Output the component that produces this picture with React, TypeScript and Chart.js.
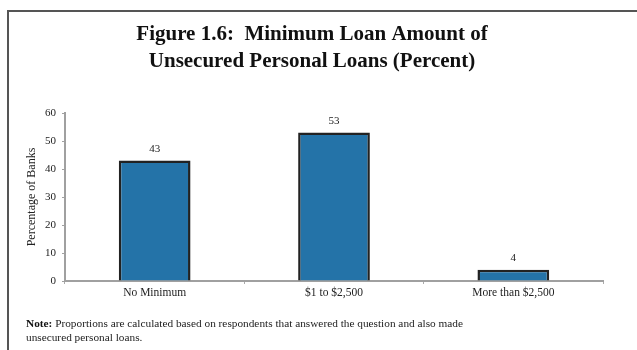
import React, { useEffect, useRef } from "react";
import { Chart, registerables } from "chart.js";

Chart.register(...registerables);

const categories = ["No Minimum", "$1 to $2,500", "More than $2,500"];
const values = [43, 53, 4];
const yTicks = [0, 10, 20, 30, 40, 50, 60];
const titleLines = ["Figure 1.6:  Minimum Loan Amount of", "Unsecured Personal Loans (Percent)"];
const noteBold = "Note:";
const noteLines = [
  " Proportions are calculated based on respondents that answered the question and also made",
  "unsecured personal loans.",
];
const yTitle = "Percentage of Banks";

const SERIF = "'Liberation Serif', 'Times New Roman', serif";

const framePlugin = {
  id: "frame",
  beforeDraw(chart: any) {
    const ctx = chart.ctx;
    ctx.save();
    ctx.fillStyle = "#ffffff";
    ctx.fillRect(0, 0, chart.width, chart.height);
    ctx.strokeStyle = "#555555";
    ctx.lineWidth = 2;
    ctx.beginPath();
    ctx.moveTo(8, 350);
    ctx.lineTo(8, 11);
    ctx.lineTo(637, 11);
    ctx.stroke();
    // title
    ctx.fillStyle = "#111111";
    ctx.font = `bold 21px ${SERIF}`;
    ctx.textBaseline = "alphabetic";
    ctx.textAlign = "center";
    ctx.fillText(titleLines[0], 312, 40);
    ctx.fillText(titleLines[1], 312, 67);
    // note
    ctx.textAlign = "left";
    ctx.font = `bold 11.3px ${SERIF}`;
    ctx.fillText(noteBold, 26, 327);
    const w = ctx.measureText(noteBold).width;
    ctx.font = `11.3px ${SERIF}`;
    ctx.fillStyle = "#222222";
    ctx.fillText(noteLines[0], 26 + w, 327);
    ctx.fillText(noteLines[1], 26, 341);
    ctx.restore();
  },
};

const labelPlugin = {
  id: "valueLabels",
  afterDatasetsDraw(chart: any) {
    const ctx = chart.ctx;
    const meta = chart.getDatasetMeta(0);
    ctx.save();
    ctx.fillStyle = "#222222";
    ctx.font = `11px ${SERIF}`;
    ctx.textAlign = "center";
    ctx.textBaseline = "bottom";
    meta.data.forEach((bar: any, i: number) => {
      ctx.fillText(String(values[i]), bar.x, bar.y - 6);
    });
    ctx.restore();
  },
};

export default function App() {
  const ref = useRef<HTMLCanvasElement | null>(null);
  useEffect(() => {
    if (!ref.current) return;
    const chart = new Chart(ref.current, {
      type: "bar",
      data: {
        labels: categories,
        datasets: [
          {
            data: values,
            backgroundColor: "#2473A8",
            borderColor: "#222222",
            borderWidth: 2.5,
            borderSkipped: "bottom",
            barPercentage: 0.4,
            categoryPercentage: 1,
          },
        ],
      },
      options: {
        responsive: false,
        animation: false,
        devicePixelRatio: 1,
        layout: { padding: { left: 25, right: 34, top: 113, bottom: 44 } },
        plugins: {
          legend: { display: false },
          title: { display: false },
          tooltip: { enabled: false },
        },
        scales: {
          x: {
            offset: true,
            grid: {
              display: true,
              offset: true,
              drawOnChartArea: false,
              drawTicks: true,
              tickLength: 3,
              color: "#aaaaaa",
              lineWidth: 1,
            },
            border: { display: true, color: "#a0a0a0", width: 2 },
            ticks: {
              color: "#222222",
              font: { family: SERIF, size: 11.5 },
              padding: 2,
              maxRotation: 0,
            },
            afterFit(scale: any) {
              scale.height = 25;
            },
          },
          y: {
            min: 0,
            max: 60,
            afterBuildTicks(scale: any) {
              scale.ticks = yTicks.map((v) => ({ value: v }));
            },
            grid: {
              display: true,
              drawOnChartArea: false,
              drawTicks: true,
              tickLength: 3,
              color: "#a0a0a0",
            },
            border: { display: true, color: "#a0a0a0", width: 2 },
            ticks: {
              color: "#222222",
              font: { family: SERIF, size: 11 },
              padding: 6,
            },
            title: {
              display: true,
              text: yTitle,
              color: "#222222",
              font: { family: SERIF, size: 12 },
              padding: { top: 0, bottom: 4 },
            },
            afterFit(scale: any) {
              scale.width = 40;
            },
          },
        },
      },
      plugins: [framePlugin, labelPlugin],
    } as any);
    return () => chart.destroy();
  }, []);
  return (
    <div style={{ position: "fixed", left: 0, top: 0, width: 637, height: 350 }}>
      <canvas ref={ref} width={637} height={350} style={{ display: "block" }} />
    </div>
  );
}
